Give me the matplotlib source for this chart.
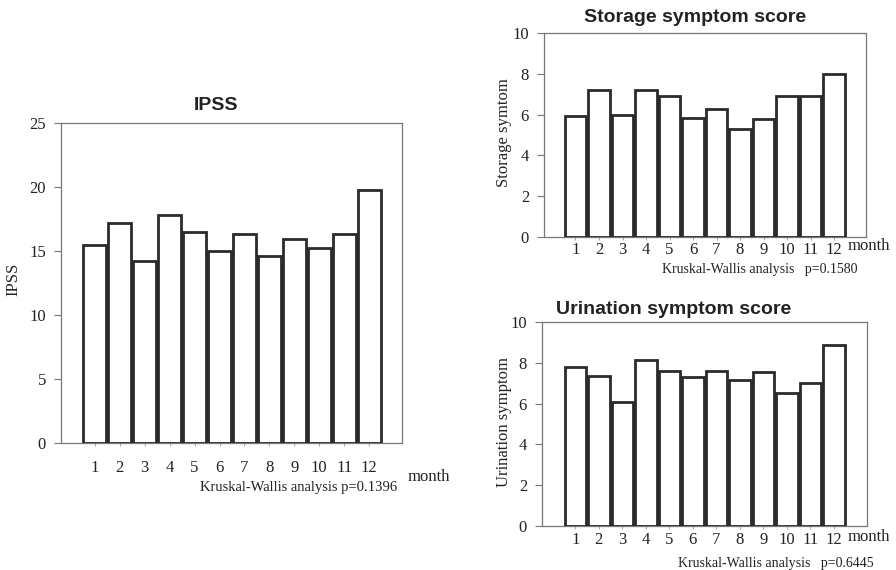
import matplotlib
matplotlib.use("Agg")
import matplotlib.pyplot as plt

months = list(range(1, 13))
month_labels = [str(m) for m in months]
ipss = [15.5, 17.2, 14.2, 17.8, 16.5, 15.0, 16.3, 14.6, 15.9, 15.2, 16.3, 19.8]
storage = [5.95, 7.2, 6.0, 7.2, 6.93, 5.82, 6.28, 5.3, 5.77, 6.89, 6.93, 8.0]
urination = [7.77, 7.36, 6.06, 8.12, 7.61, 7.28, 7.61, 7.15, 7.56, 6.51, 7.0, 8.85]

W, H = 896, 570
fig = plt.figure(figsize=(W / 100, H / 100), dpi=100)
SERIF = "Liberation Serif"
SANS = "Liberation Sans"
TXT = "#222222"
SPINE = "#777777"


def px_axes(l, t, r, b):
    return fig.add_axes([l / W, 1 - b / H, (r - l) / W, (b - t) / H])


def style(ax, vals, ymax, ystep, xlim, ylabel, labcoords, xpad, fs):
    ax.bar(months, vals, width=0.92, facecolor="white", edgecolor="#2a2a2a",
           linewidth=2.0, zorder=3)
    ax.set_xlim(*xlim)
    ax.set_ylim(0, ymax)
    ax.set_yticks(range(0, ymax + 1, ystep))
    ax.set_xticks(months)
    ax.set_xticklabels(month_labels, fontfamily=SERIF, fontsize=fs, color=TXT)
    for lab in ax.get_yticklabels():
        lab.set_fontfamily(SERIF)
        lab.set_fontsize(fs)
        lab.set_color(TXT)
    ax.tick_params(axis="y", length=4.8, width=0.8, color=SPINE, pad=6)
    ax.tick_params(axis="x", length=2, width=0.6, color="#999999", pad=xpad)
    for s in ax.spines.values():
        s.set_color(SPINE)
        s.set_linewidth(0.9)
    ax.set_ylabel(ylabel, fontfamily=SERIF, fontsize=12, color=TXT)
    ax.yaxis.set_label_coords(*labcoords)


def ftext(x, y, s, **kw):
    fig.text(x / W, 1 - y / H, s, **kw)


# IPSS
ax1 = px_axes(61, 123, 402, 443)
style(ax1, ipss, 25, 5, (-0.36, 13.32), "IPSS", (-0.115, 0.51), 10, 12)
ftext(216, 106, "IPSS", ha="center", va="center", fontfamily=SANS,
      fontweight="bold", fontsize=14, color=TXT)
ftext(429, 477, "month", ha="center", va="center", fontfamily=SERIF, fontsize=12, color=TXT)
ftext(299, 487, "Kruskal-Wallis analysis p=0.1396", ha="center", va="center",
      fontfamily=SERIF, fontsize=10.5, color=TXT)

# Storage
ax2 = px_axes(544, 33, 866, 237)
style(ax2, storage, 10, 2, (-0.34, 13.36), "Storage symtom", (-0.10, 0.51), 1.5, 12)
ftext(695, 18, "Storage symptom score", ha="center", va="center", fontfamily=SANS,
      fontweight="bold", fontsize=14, color=TXT)
ftext(869, 246, "month", ha="center", va="center", fontfamily=SERIF, fontsize=12, color=TXT)
ftext(760, 269, "Kruskal-Wallis analysis   p=0.1580", ha="center", va="center",
      fontfamily=SERIF, fontsize=10, color=TXT)

# Urination
ax3 = px_axes(542, 322, 867, 526)
style(ax3, urination, 10, 2, (-0.42, 13.41), "Urination symptom", (-0.093, 0.51), 2, 12)
ftext(674, 309, "Urination symptom score", ha="center", va="center", fontfamily=SANS,
      fontweight="bold", fontsize=14, color=TXT)
ftext(869, 537, "month", ha="center", va="center", fontfamily=SERIF, fontsize=12, color=TXT)
ftext(776, 563, "Kruskal-Wallis analysis   p=0.6445", ha="center", va="center",
      fontfamily=SERIF, fontsize=10, color=TXT)

fig.savefig("out.png", dpi=100, facecolor="white")
